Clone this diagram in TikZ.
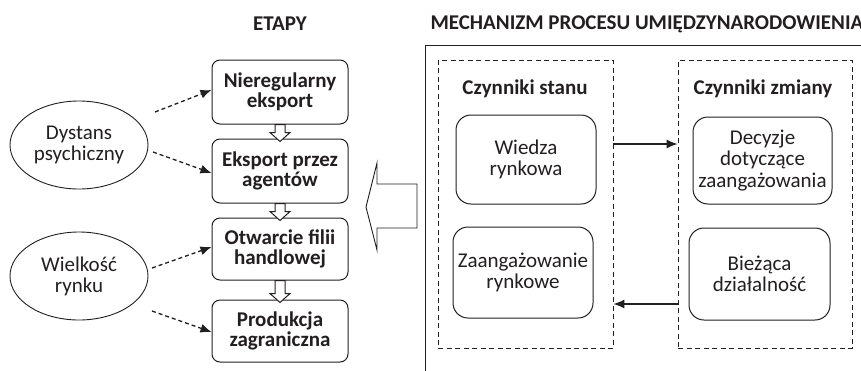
\documentclass[tikz,border=0pt]{standalone}
\usepackage{fontspec}
\setmainfont{Carlito}
\usetikzlibrary{arrows.meta,shapes.geometric,calc}
\definecolor{ink}{HTML}{231F20}
\begin{document}
\begin{tikzpicture}[x=1pt,y=-1pt,
  every node/.style={text=ink},
  stagebox/.style={draw=ink,line width=1pt,rounded corners=8pt,minimum width=136pt,inner sep=0pt,align=center,font=\bfseries\fontsize{21}{20}\selectfont},
  factor/.style={draw=ink,line width=1pt,rounded corners=15pt,minimum width=140pt,inner sep=0pt,align=center,font=\fontsize{21}{21.5}\selectfont},
  oval/.style={draw=ink,line width=0.9pt,ellipse,minimum width=138pt,minimum height=88pt,inner sep=0pt,align=center,font=\fontsize{21}{21}\selectfont},
  group/.style={draw=ink,line width=0.9pt,dash pattern=on 5pt off 3.5pt,inner sep=0pt},
  title/.style={font=\bfseries\fontsize{21}{20}\selectfont},
  head/.style={font=\bfseries\fontsize{21}{20}\selectfont},
  dasharrow/.style={draw=ink,line width=1.3pt,dash pattern=on 4pt off 3pt,-{Latex[length=11pt,width=9pt]}},
  flowarrow/.style={draw=ink,line width=1.1pt,-{Latex[length=11pt,width=9pt]}},
  hollow/.style={draw=ink,line width=1pt,fill=white}
]
\useasboundingbox (0,0) rectangle (861,370);
\fill[white] (0,0) rectangle (861,370);

% titles
\node[title] (t1) at (280,24) {ETAPY};
\node[title,anchor=west] (t2) at (427,24) {MECHANIZM PROCESU UMIĘDZYNARODOWIENIA};

% stages
\node[stagebox,minimum height=64pt] (s1) at (280,92) {Nieregularny\\eksport};
\node[stagebox,minimum height=64pt] (s2) at (280,171) {Eksport przez\\agentów};
\node[stagebox,minimum height=62pt] (s3) at (280,249) {Otwarcie filii\\handlowej};
\node[stagebox,minimum height=62pt] (s4) at (280,331) {Produkcja\\zagraniczna};

% hollow down arrows between stages
\newcommand{\hdown}[2]{\draw[hollow] let \p1=(#1.south), \p2=(#2.north) in
  (\x1-5pt,\y1) -- (\x1-5pt,\y2+6pt) -- (\x1-10pt,\y2+6pt) -- (\x1,\y2-3pt)
  -- (\x1+10pt,\y2+6pt) -- (\x1+5pt,\y2+6pt) -- (\x1+5pt,\y1) -- cycle;}
\hdown{s1}{s2}
\hdown{s2}{s3}
\hdown{s3}{s4}

% ellipses
\node[oval] (e1) at (79,145) {Dystans\\psychiczny};
\node[oval] (e2) at (79,276) {Wielkość\\rynku};

\coordinate (a1) at (155,112);
\coordinate (a2) at (153,152);
\coordinate (a3) at (152,268);
\coordinate (a4) at (152,311);
\draw[dasharrow] (a1) -- ([yshift=2pt]s1.west);
\draw[dasharrow] (a2) -- ([yshift=-2pt]s2.west);
\draw[dasharrow] (a3) -- ([yshift=2pt]s3.west);
\draw[dasharrow] (a4) -- ([yshift=-1pt]s4.west);

% big hollow arrow
\draw[hollow,line width=0.9pt] (366,207) -- (377,163) -- (377,184) -- (417,184) -- (417,228) -- (377,228) -- (377,250) -- cycle;

% outer box
\draw[draw=ink,line width=0.9pt] (425,380) -- (425,45) -- (875,45);

% dashed groups
\node[group,minimum width=175pt,minimum height=288pt] (d1) at (525.5,204) {};
\node[group,minimum width=174pt,minimum height=288pt] (d2) at (765,204) {};
\node[head] (h1) at (525,89) {Czynniki stanu};
\node[head] (h2) at (763,89) {Czynniki zmiany};

% factor boxes
\node[factor,minimum height=89pt] (f1) at (526,159.5) {Wiedza\\rynkowa};
\node[factor,minimum height=91pt] (f2) at (523,272.5) {Zaangażowanie\\rynkowe};
\node[factor,minimum width=139pt,minimum height=87pt] (f3) at (762.5,160.5) {Decyzje\\dotyczące\\zaangażowania};
\node[factor,minimum width=141pt,minimum height=92pt] (f4) at (759.5,274) {Bieżąca\\działalność};

% arrows between groups
\coordinate (r1) at (613,144);
\coordinate (r2) at (678,304);
\draw[flowarrow] (r1) -- (r1 -| d2.west);
\draw[flowarrow] (r2) -- (r2 -| d1.east);
\end{tikzpicture}
\end{document}
